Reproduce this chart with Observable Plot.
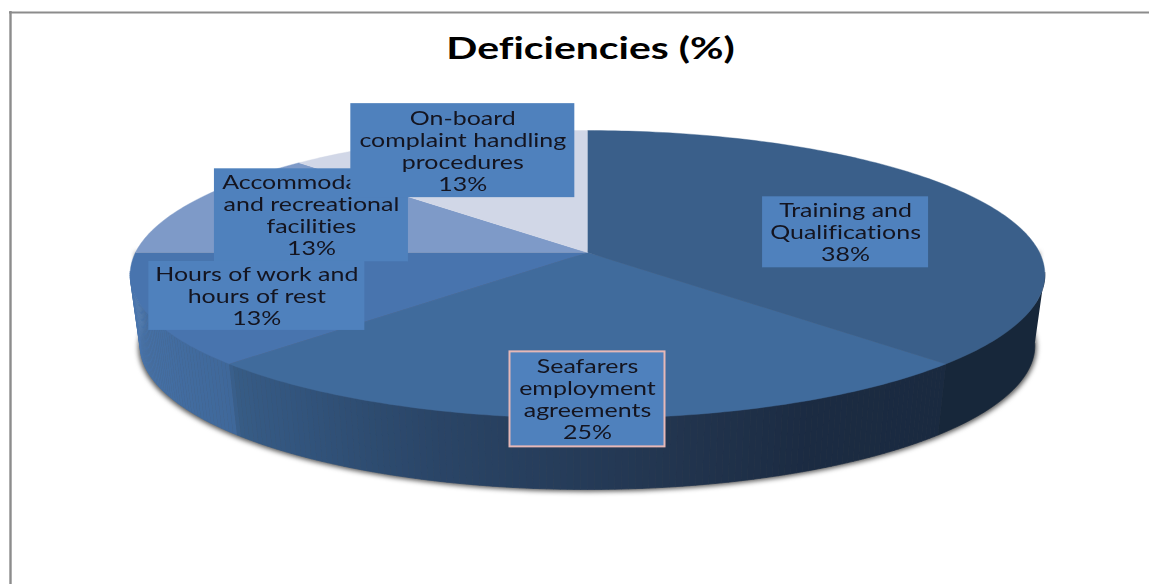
<!DOCTYPE html>
<html>
<head>
<meta charset="utf-8">
<style>html,body{margin:0;padding:0;background:#fff}svg{display:block}svg text{font-variant-ligatures:none}</style>
<script src="https://cdn.jsdelivr.net/npm/d3@7"></script>
<script src="https://cdn.jsdelivr.net/npm/@observablehq/plot@0.6"></script>
</head>
<body>
<script>
// ---- data ----
const title = "Deficiencies (%)";
const categories = [
  "Training and\nQualifications",
  "Seafarers\nemployment\nagreements",
  "Hours of work and\nhours of rest",
  "Accommodation\nand recreational\nfacilities",
  "On-board\ncomplaint handling\nprocedures"
];
const shares = [37.5, 25, 12.5, 12.5, 12.5];

// ---- styles ----
const topColors = ["#3a5f8a", "#406b9c", "#4874ae", "#7e9ac8", "#d1d7e7"];
const trainingWall = "#17273a";
const wallStops = [
  [135, "#1a2a40"], [155, "#1b2b42"], [171, "#22354f"], [197, "#2a4567"], [216, "#33567f"], [224.5, "#375c86"],
  [225, "#3f689a"], [262, "#4a76ad"]
];
const boxColor = "#4f81bd";
const boxBorder = ["none", "#e6b8b7", "none", "none", "none"];

// ---- layout: tilted-disc projection and label placement ----
const cx = 587, cy = 252, ax = 452, by = 140.6, persp = 0.1528;
const depth = 71, bottomScale = 0.978;
const labelAnchorRadius = 0.6;
const labelOffset = [[16, 11], [0, 54], [-71, 10], [-34, -6], [-29, -30]];
const labelSize = [[166, 71], [155, 95], [216, 69], [194, 93], [224, 94]];
const drawOrder = [0, 1, 3, 2, 4];
const W = 1149, H = 584;

const rad = (t) => t * Math.PI / 180;
function project(t, r = 1) {
  const w = 1 + persp * r * Math.cos(rad(t));
  return {
    x: cx + ax * r * Math.sin(rad(t)) / w,
    y: cy - by * r * Math.cos(rad(t)) / w
  };
}
const bottom = (t) => {
  const p = project(t);
  return {x: cx + (p.x - cx) * bottomScale, y: p.y + depth};
};

// slice angles from the shares
const total = d3.sum(shares);
const cum = d3.cumsum(shares);
const slices = shares.map((s, i) => ({
  i, start: (cum[i] - s) / total * 360, end: cum[i] / total * 360,
  mid: (cum[i] - s / 2) / total * 360
}));

// top surface polygons
const topPts = slices.flatMap((s) => {
  const pts = [{...project(0, 0), k: s.i, color: topColors[s.i]}];
  for (let t = s.start; t <= s.end + 1e-6; t += 1) pts.push({...project(t), k: s.i, color: topColors[s.i]});
  return pts;
});

// side wall: the first slice is one flat face, the others carry fine shading strips
const wallColor = d3.scaleLinear().domain(wallStops.map((d) => d[0])).range(wallStops.map((d) => d[1]));
const wallPts = [];
const wallEnd = slices[0].end;
const flat = d3.range(98, wallEnd + 0.5, 1);
flat.forEach((t) => wallPts.push({...project(t), k: 0, color: trainingWall}));
flat.slice().reverse().forEach((t) => wallPts.push({...bottom(t), k: 0, color: trainingWall}));
const wallStep = 0.75;
for (let t = wallEnd; t < 262; t += wallStep) {
  const color = wallColor(t + wallStep / 2);
  [project(t), project(t + wallStep), bottom(t + wallStep), bottom(t)]
    .forEach((p) => wallPts.push({...p, k: t, color}));
}

// soft shadow under the wall
const shadowPts = d3.range(90, 271, 2).map((t) => {
  const p = bottom(t);
  return {x: cx + (p.x - cx) * 1.004, y: p.y + 2};
}).concat([project(270), project(90)]);

const labels = slices.map((s) => {
  const a = project(s.mid, labelAnchorRadius);
  const [dx, dy] = labelOffset[s.i];
  const [w, h] = labelSize[s.i];
  return {
    x: a.x + dx, y: a.y + dy, w, h, border: boxBorder[s.i],
    text: categories[s.i] + "\n" + Math.round(shares[s.i] + 1e-9) + "%"
  };
});

// Lato widened to follow the stretched lettering of the picture
const widen = (sx) => (index, scales, values, dims, context, next) => {
  const g = next(index, scales, values, dims, context);
  g.querySelectorAll("text").forEach((t) => {
    const tr = t.getAttribute("transform") || "";
    t.setAttribute("transform", tr + ` scale(${sx},1)`);
  });
  return g;
};

const labelMarks = drawOrder.flatMap((i) => {
  const d = [labels[i]];
  return [
    Plot.rect(d, {
      x1: (l) => l.x - l.w / 2, x2: (l) => l.x + l.w / 2,
      y1: (l) => l.y - l.h / 2, y2: (l) => l.y + l.h / 2,
      fill: boxColor, stroke: d[0].border, strokeWidth: 2
    }),
    Plot.text(d, {
      x: "x", y: "y", text: "text", fill: "#14141f",
      fontFamily: "Lato", fontSize: 18.5, lineHeight: 1.19,
      textAnchor: "middle", imageFilter: "blur(0.35px)", render: widen(1.35)
    })
  ];
});

const chart = Plot.plot({
  width: W, height: H, margin: 0,
  x: {domain: [0, W], range: [0, W], axis: null},
  y: {domain: [0, H], range: [0, H], axis: null},
  color: {type: "identity"},
  marks: [
    // frame
    Plot.ruleY([12], {x1: 9, x2: W, stroke: "#8c8c8c", strokeWidth: 2}),
    Plot.ruleX([10], {y1: 11, y2: H, stroke: "#8c8c8c", strokeWidth: 2.4}),
    // shadow
    Plot.line(shadowPts, {x: "x", y: "y", fill: "#555", stroke: "none", imageFilter: "blur(2.5px)"}),
    // wall
    Plot.line(wallPts, {x: "x", y: "y", z: "k", fill: "color", stroke: "color", strokeWidth: 0.7, imageFilter: "blur(0.4px)"}),
    // top
    Plot.line(topPts, {x: "x", y: "y", z: "k", fill: "color", stroke: "color", strokeWidth: 0.4}),
    ...labelMarks,
    Plot.text([title], {
      x: () => 590, y: () => 49, text: (d) => d, fill: "#000",
      fontFamily: "Lato", fontWeight: 700, fontSize: 31,
      render: widen(1.32)
    })
  ]
});
document.body.appendChild(chart);
</script>
</body>
</html>
